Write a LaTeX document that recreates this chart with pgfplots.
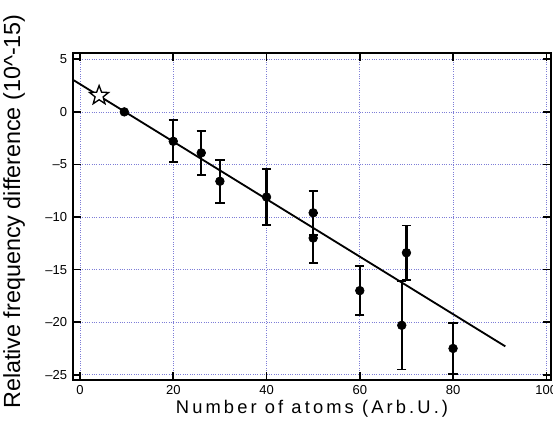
\documentclass[border=0pt]{standalone}
\usepackage{pgfplots}
\pgfplotsset{compat=1.18}
\usepackage{fontspec}
\setmainfont{Liberation Sans}
\newfontfamily\spacedfont[LetterSpace=17]{Liberation Sans}
\definecolor{gridblue}{RGB}{125,125,215}

% open five-pointed star
\pgfdeclareplotmark{ostar}{%
  \pgfpathmoveto{\pgfpointpolar{90}{\pgfplotmarksize}}%
  \pgfpathlineto{\pgfpointpolar{126}{0.42*\pgfplotmarksize}}%
  \pgfpathlineto{\pgfpointpolar{162}{\pgfplotmarksize}}%
  \pgfpathlineto{\pgfpointpolar{198}{0.42*\pgfplotmarksize}}%
  \pgfpathlineto{\pgfpointpolar{234}{\pgfplotmarksize}}%
  \pgfpathlineto{\pgfpointpolar{270}{0.42*\pgfplotmarksize}}%
  \pgfpathlineto{\pgfpointpolar{306}{\pgfplotmarksize}}%
  \pgfpathlineto{\pgfpointpolar{342}{0.42*\pgfplotmarksize}}%
  \pgfpathlineto{\pgfpointpolar{18}{\pgfplotmarksize}}%
  \pgfpathlineto{\pgfpointpolar{54}{0.42*\pgfplotmarksize}}%
  \pgfpathclose
  \pgfusepathqfillstroke}

\begin{document}
\begin{tikzpicture}
\begin{axis}[
    scale only axis,
    width=286.8pt, height=196.2pt,
    at={(0,0)}, anchor=south west,
    xmin=-1.5, xmax=101,
    ymin=-25.5, ymax=5.6,
    xtick={0,20,40,60,80,100},
    ytick={-25,-20,-15,-10,-5,0,5},
    yticklabels={--25,--20,--15,--10,--5,0,5},
    tick align=inside, tick pos=both,
    major tick length=5pt,
    every tick/.style={black, line width=1pt},
    axis line style={line width=1.2pt},
    grid=major,
    major grid style={gridblue, densely dotted, line width=0.45pt},
    tick label style={font=\fontsize{7.8}{9}\selectfont},
    /pgf/number format/assume math mode=true,
    xlabel={Number of atoms (Arb.U.)},
    xlabel style={font=\spacedfont\fontsize{11}{13}\selectfont,
        at={(axis description cs:0.5,-0.088)}, anchor=center},
    ylabel={Relative frequency difference (10\textasciicircum-15)},
    ylabel style={font=\fontsize{14}{16}\selectfont,
        at={(axis description cs:-0.123,0.515)}, anchor=center},
]

% fitted line
\addplot[black, line width=1.1pt] coordinates {(-1.5,3.05) (91.2,-22.3)};

% reference point
\addplot[only marks, mark=ostar, mark size=6pt, black, fill=white, line width=0.8pt]
    coordinates {(4.1,1.55)};

\addplot[only marks, mark=*, mark size=2.6pt, black] coordinates {(9.5,0)};

\addplot[only marks, mark=*, mark size=2.6pt, black,
    error bars/.cd, y dir=both, y explicit,
    error bar style={line width=1.3pt, black},
    error mark options={rotate=90, mark size=2.8pt, line width=1.1pt, black}]
    coordinates {
    (20,-2.8)   +- (0,2.0)
    (26,-3.9)   +- (0,2.1)
    (30,-6.6)   +- (0,2.05)
    (40,-8.1)   +- (0,2.65)
    (50,-9.6)   +- (0,2.1)
    (50,-12.0)  +- (0,2.4)
    (60,-17.0)  +- (0,2.35)
    (69,-20.3)  +- (0,4.2)
    (70,-13.4)  +- (0,2.6)
    (80,-22.5)  +- (0,2.45)
    };

\end{axis}
\pgfresetboundingbox
\useasboundingbox (-43.8pt,-24pt) rectangle (288pt,228pt);
\end{tikzpicture}
\end{document}
